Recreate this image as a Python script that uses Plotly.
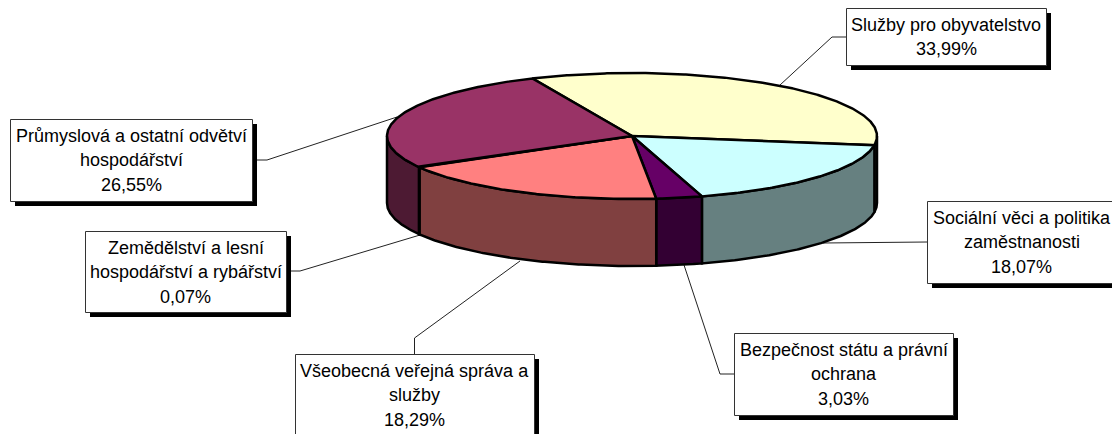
import numpy as np
import plotly.graph_objects as go

# ---------- data ----------
categories = [
    "Služby pro obyvatelstvo",
    "Sociální věci a politika zaměstnanosti",
    "Bezpečnost státu a právní ochrana",
    "Všeobecná veřejná správa a služby",
    "Zemědělství a lesní hospodářství a rybářství",
    "Průmyslová a ostatní odvětví hospodářství",
]
values = [33.99, 18.07, 3.03, 18.29, 0.07, 26.55]
label_lines = [
    ["Služby pro obyvatelstvo"],
    ["Sociální věci a politika", "zaměstnanosti"],
    ["Bezpečnost státu a právní", "ochrana"],
    ["Všeobecná veřejná správa a", "služby"],
    ["Zemědělství a lesní", "hospodářství a rybářství"],
    ["Průmyslová a ostatní odvětví", "hospodářství"],
]

# ---------- style ----------
top_colors = ["#FFFFCC", "#CCFFFF", "#660066", "#FF8080", "#0066CC", "#993366"]
side_colors = ["#808066", "#668080", "#330033", "#804040", "#003366", "#4D1A33"]

W, H = 1112, 434
CX, CY, RX, RY, DEPTH = 632, 136, 245, 63, 67
START = 336.0
FONT = "Liberation Sans, Arial, sans-serif"
FS = 18
LW = 2.5

boxes = [  # x0, y0, x1, y1
    (846, 8, 1046, 65),
    (927, 201, 1116, 283),
    (734, 333, 953, 415),
    (295, 354, 534, 436),
    (85, 231, 286, 312),
    (10, 119, 252, 201),
]
leaders = [
    ([846, 832, 780], [37, 37, 85]),
    ([927, 823], [242, 243]),
    ([734, 720, 684], [374, 374, 265]),
    ([414.5, 414.5, 520], [354, 338, 261]),
    ([286, 300, 420], [271, 271, 235]),
    ([252, 267, 397], [160, 160, 117]),
]


def pt(angle, drop=0.0):
    a = np.radians(angle)
    return CX + RX * np.sin(a), CY - RY * np.cos(a) + drop


fig = go.Figure()

for xs, ys in leaders:
    fig.add_trace(go.Scatter(x=xs, y=ys, mode="lines", line=dict(color="#222222", width=1),
                             hoverinfo="skip", showlegend=False))

cum = START + np.concatenate([[0], np.cumsum(values)]) * 3.6

# sides: only the front half (90 deg..270 deg clockwise from top) is visible
for i, v in enumerate(values):
    a0, a1 = cum[i], cum[i + 1]
    for k in (-360, 0, 360):
        lo, hi = max(a0 + k, 90), min(a1 + k, 270)
        if hi <= lo:
            continue
        t = np.linspace(lo, hi, 120)
        x1, y1 = pt(t)
        x2, y2 = pt(t[::-1], DEPTH)
        fig.add_trace(go.Scatter(
            x=np.r_[x1, x2, x1[0]], y=np.r_[y1, y2, y1[0]], mode="lines", fill="toself",
            fillcolor=side_colors[i], line=dict(color="black", width=LW),
            hoverinfo="skip", showlegend=False))

# top wedges
for i, v in enumerate(values):
    t = np.linspace(cum[i], cum[i + 1], max(3, int(v * 8)))
    x, y = pt(t)
    fig.add_trace(go.Scatter(
        x=np.r_[CX, x, CX], y=np.r_[CY, y, CY], mode="lines", fill="toself",
        fillcolor=top_colors[i], line=dict(color="black", width=LW),
        name=categories[i], hoverinfo="skip", showlegend=False))

shapes, annotations = [], []
for (x0, y0, x1, y1), lines, v in zip(boxes, label_lines, values):
    shapes.append(dict(type="rect", x0=x0 + 5, y0=y0 + 5, x1=x1 + 5, y1=y1 + 5,
                       fillcolor="black", line=dict(width=0), layer="above"))
    shapes.append(dict(type="rect", x0=x0 + .5, y0=y0 + .5, x1=x1 + .5, y1=y1 + .5,
                       fillcolor="white", line=dict(color="#333333", width=1), layer="above"))
    texts = lines + [f"{v:.2f}".replace(".", ",") + "%"]
    for j, s in enumerate(texts):
        annotations.append(dict(
            x=(x0 + x1) / 2, y=y0 + 16.5 + j * 24.5, text=s, showarrow=False,
            xanchor="center", yanchor="middle", font=dict(family=FONT, size=FS, color="black")))

fig.update_layout(
    width=W, height=H, margin=dict(l=0, r=0, t=0, b=0), autosize=False,
    paper_bgcolor="white", plot_bgcolor="white", showlegend=False,
    xaxis=dict(range=[0, W], visible=False, fixedrange=True),
    yaxis=dict(range=[H, 0], visible=False, fixedrange=True),
    shapes=shapes, annotations=annotations,
)
fig.write_html("out.html", config={"displayModeBar": False},
               post_script="document.body.style.margin='0';document.body.style.overflow='hidden';")
